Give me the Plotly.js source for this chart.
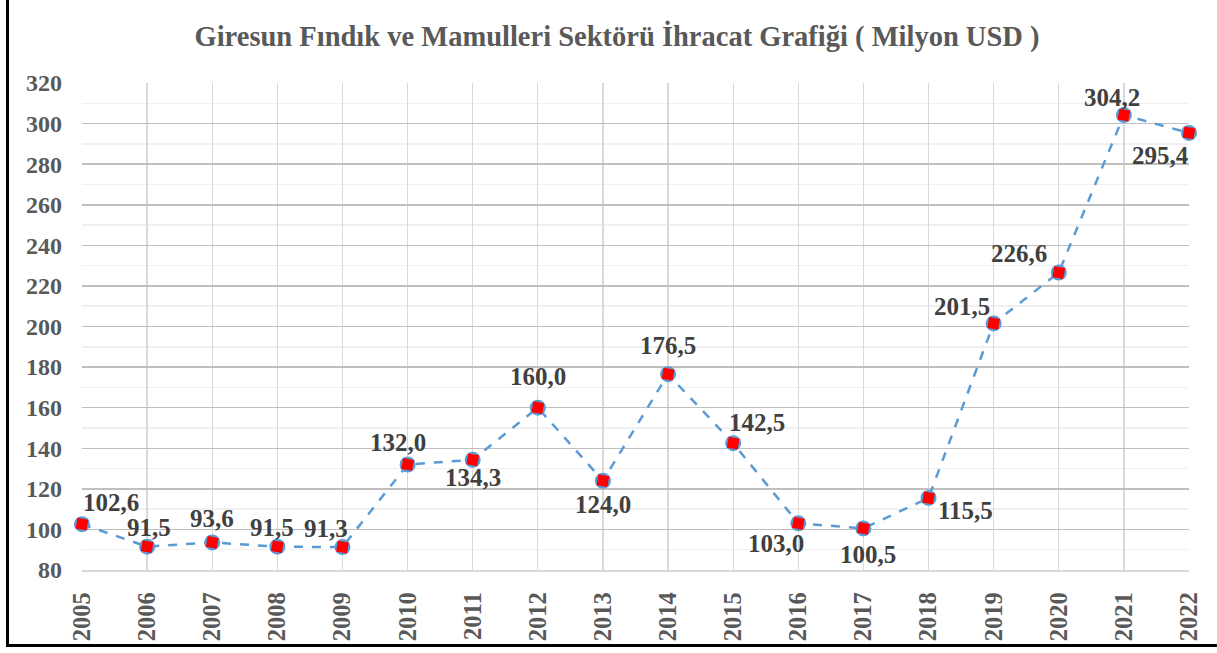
<!DOCTYPE html>
<html><head><meta charset="utf-8">
<script src="https://cdn.plot.ly/plotly-3.0.1.min.js"></script>
<style>html,body{margin:0;padding:0;background:#fff;overflow:hidden}
#wrap{position:relative;width:1217px;height:653px}
#chart{width:1217px;height:653px}
#frame{position:absolute;left:6px;top:-10px;width:1220px;height:657px;border:3px solid #000;box-sizing:border-box;pointer-events:none}
</style></head>
<body><div id="wrap"><div id="chart"></div><div id="frame"></div></div>
<script>
const years = ['2005','2006','2007','2008','2009','2010','2011','2012','2013','2014','2015','2016','2017','2018','2019','2020','2021','2022'];
const exportsMUSD = [102.6, 91.5, 93.6, 91.5, 91.3, 132.0, 134.3, 160.0, 124.0, 176.5, 142.5, 103.0, 100.5, 115.5, 201.5, 226.6, 304.2, 295.4];
// label offsets in pixels (dx right, dy down)
const labelDx = [29, 2, 0, -5, -16, -10, 0, 0, 0, 0, 24, -22, 5, 37, -32, -40, -12, -29];
const labelDy = [-22, -19, -24, -19, -19, -22, 18, -31, 24, -29, -21, 20, 26, 13, -17, -19, -18, 23];

const fmt = v => v.toFixed(1).replace('.', ',');
const serif = 'Liberation Serif, Times New Roman, serif';

const annotations = years.map((y, i) => ({
  x: i, y: exportsMUSD[i], xref: 'x', yref: 'y',
  text: fmt(exportsMUSD[i]), showarrow: false,
  xanchor: 'center', yanchor: 'middle',
  xshift: labelDx[i], yshift: -labelDy[i],
  font: {family: serif, size: 25, color: '#404040', weight: 'bold'}
}));

const traces = [
  {x: years, y: exportsMUSD, type: 'scatter', mode: 'lines+markers',
   line: {color: '#5b9bd5', width: 2.5, dash: 'dash'},
   marker: {symbol: 'circle', size: 16, color: '#5b9bd5'},
   cliponaxis: false, hoverinfo: 'skip'},
  {x: years, y: exportsMUSD, type: 'scatter', mode: 'markers',
   marker: {symbol: 'square', size: 11, color: '#ff0000', angle: 10},
   cliponaxis: false, hoverinfo: 'skip'}
];

const layout = {
  width: 1217, height: 653,
  margin: {l: 82, r: 28, t: 83, b: 83},
  paper_bgcolor: '#fff', plot_bgcolor: '#fff',
  showlegend: false,
  title: {text: 'Giresun Fındık ve Mamulleri Sektörü İhracat Grafiği ( Milyon USD )',
          x: 0.507, xanchor: 'center', y: 0.945, yanchor: 'middle',
          font: {family: serif, size: 28.5, color: '#595959', weight: 'bold'}},
  xaxis: {type: 'category', range: [0, 17], showgrid: true, gridcolor: '#d9d9d9', gridwidth: 1.3,
          tickangle: -90, ticks: '', ticklabelstandoff: 11,
          tickfont: {family: serif, size: 24.5, color: '#595959', weight: 'bold'},
          showline: true, linecolor: '#d9d9d9', linewidth: 1.5, zeroline: false, fixedrange: true},
  yaxis: {range: [80, 320], dtick: 20, tick0: 80, showgrid: true, gridcolor: '#bfbfbf', gridwidth: 1.5,
          minor: {dtick: 10, showgrid: true, gridcolor: '#f0f0f0', gridwidth: 1.5, ticks: ''},
          ticks: '', ticklabelstandoff: 19,
          tickfont: {family: serif, size: 24, color: '#595959', weight: 'bold'},
          showline: false, zeroline: false, fixedrange: true},
  annotations: annotations
};

Plotly.newPlot('chart', traces, layout, {staticPlot: true, displayModeBar: false});
</script></body></html>
